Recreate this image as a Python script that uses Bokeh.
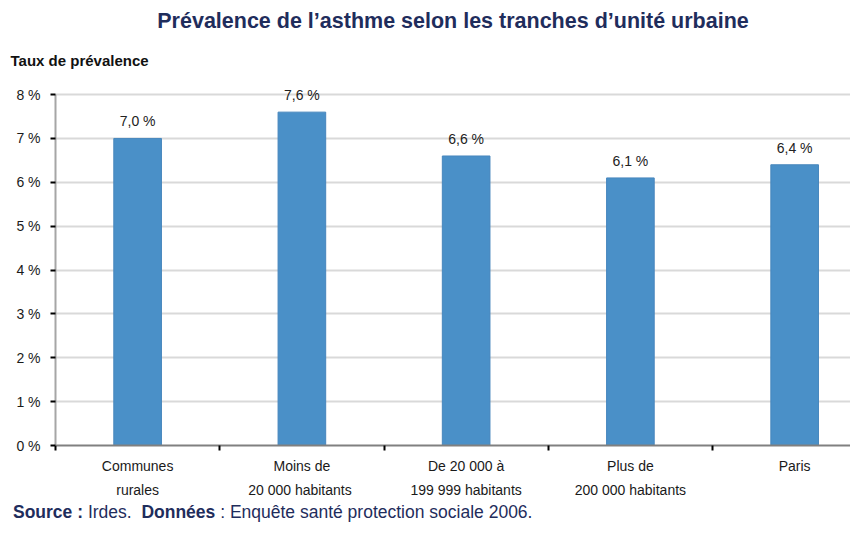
from bokeh.plotting import figure
from bokeh.models import Range1d, FixedTicker, ColumnDataSource, Title, Div
from bokeh.layouts import column
from bokeh.embed import file_html
from bokeh.resources import INLINE
from bokeh.core.properties import value

categories = ["Communes\nrurales", "Moins de\n20 000  habitants", "De 20 000 à\n199 999 habitants",
              "Plus de\n200 000 habitants", "Paris"]
prevalence = [7.0, 7.6, 6.6, 6.1, 6.4]
y_ticks = [0, 1, 2, 3, 4, 5, 6, 7, 8]
y_tick_labels = ["0 %", "1 %", "2 %", "3 %", "4 %", "5 %", "6 %", "7 %", "8 %"]

title_text = "Prévalence de l\u2019asthme selon les tranches d\u2019unité urbaine"
y_title = "Taux de prévalence"
source_html = ("<b>Source :</b> Irdes.&nbsp;&nbsp;<b>Données</b> : "
               "Enquête santé protection sociale 2006.")

FONT = "Liberation Sans"
NAVY = "#1f2d5c"

centers = [i + 0.5 for i in range(len(categories))]
bounds = [float(i) for i in range(len(categories) + 1)]
labels = [f"{v:.1f}".replace(".", ",") + " %" for v in prevalence]

src = ColumnDataSource(dict(x=centers, top=prevalence, lab=labels))

p = figure(width=850, height=500, output_backend="svg", toolbar_location=None,
           title_location=None,
           x_range=Range1d(0, 4.84), y_range=Range1d(0, 8.23),
           min_border_left=55, min_border_right=0, min_border_top=84, min_border_bottom=54)
p.outline_line_color = None
p.background_fill_color = "white"
p.border_fill_color = "white"

p.vbar(x="x", top="top", width=0.29, source=src, fill_color="#4a90c8", line_color="#4786bd")
p.text(x="x", y="top", text="lab", source=src, text_align="center", text_baseline="bottom",
       y_offset=-9, text_font=value(FONT), text_font_size="14px", text_color="#222222")

# y axis
p.yaxis.ticker = FixedTicker(ticks=y_ticks)
p.yaxis.bounds = (0, 8)
p.yaxis.major_label_overrides = {t: l for t, l in zip(y_ticks, y_tick_labels)}
p.yaxis.major_label_text_font = FONT
p.yaxis.major_label_text_font_size = "14px"
p.yaxis.major_label_text_color = "#1a1a1a"
p.yaxis.axis_line_color = "#a6a6a6"
p.yaxis.axis_line_width = 2
p.yaxis.major_tick_line_color = "black"
p.yaxis.major_tick_line_width = 2
p.yaxis.major_tick_in = 0
p.yaxis.major_tick_out = 5
p.yaxis.minor_tick_line_color = None
p.yaxis.major_label_standoff = 10

# x axis: labels at centers, ticks at category bounds
p.xaxis.ticker = FixedTicker(ticks=centers, minor_ticks=bounds)
p.xaxis.major_label_overrides = {c: l for c, l in zip(centers, categories)}
p.xaxis.major_label_text_font = FONT
p.xaxis.major_label_text_font_size = "14px"
p.xaxis.major_label_text_color = "#1a1a1a"
p.xaxis.major_label_text_line_height = 1.5
p.xaxis.major_label_standoff = 6
p.xaxis.major_tick_line_color = None
p.xaxis.minor_tick_line_color = "black"
p.xaxis.minor_tick_line_width = 2
p.xaxis.minor_tick_in = 0
p.xaxis.minor_tick_out = 5
p.xaxis.axis_line_color = "#808080"
p.xaxis.axis_line_width = 2

p.xgrid.grid_line_color = None
p.ygrid.ticker = FixedTicker(ticks=y_ticks)
p.ygrid.grid_line_color = "#d9d9d9"
p.ygrid.grid_line_width = 2

# titles (first added is nearest the plot)
p.add_layout(Title(text=y_title, align="left", offset=-45, text_font=FONT,
                   text_font_size="15px", text_font_style="bold", text_color="#111111",
                   standoff=32), "above")
p.add_layout(Title(text=title_text, align="center", offset=12, text_font=FONT,
                   text_font_size="21.5px", text_font_style="bold", text_color=NAVY,
                   standoff=2), "above")

div = Div(text=source_html, width=850, height=17, margin=(0, 0, 0, 13),
          styles={"font-family": FONT, "font-size": "17.5px", "color": NAVY})

layout = column(p, div, spacing=0)
open("out.html", "w").write(file_html(layout, INLINE))
